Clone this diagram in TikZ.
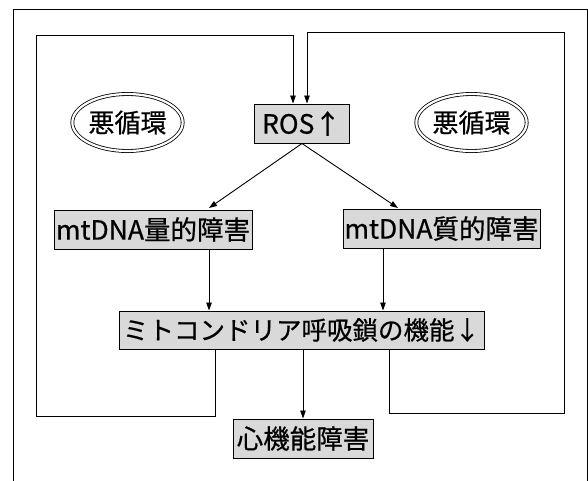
\documentclass[tikz,border=0pt]{standalone}
\usepackage{fontspec}
\setmainfont{Noto Sans CJK JP}[FakeBold=0.6]
\usetikzlibrary{shapes.geometric,arrows.meta}
\tikzset{
  box/.style={draw, line width=1pt, fill=gray!30, inner sep=1pt, font=\fontsize{26.5}{28}\selectfont},
  loopel/.style={draw, ellipse, double, double distance=2.2pt, line width=0.8pt, minimum width=105pt, minimum height=57pt, inner sep=0pt, font=\fontsize{26}{28}\selectfont},
  arr/.style={-{Triangle[length=8pt,width=5.5pt]}, line width=0.9pt},
  ln/.style={line width=1pt}
}
\begin{document}
\begin{tikzpicture}[x=1pt,y=-1pt]
\useasboundingbox (0,0) rectangle (588,480);
\draw[line width=0.9pt] (13,482) -- (13,9) -- (587,9) -- (587,482);
\node[box, minimum width=95pt, minimum height=39pt] (ros) at (301.5,123.5) {ROS↑};
\node[loopel] (e1) at (127.5,122.5) {悪循環};
\node[loopel] (e2) at (471.5,122.5) {悪循環};
\node[box, minimum width=198pt, minimum height=39pt] (q1) at (153,229.5) {mtDNA量的障害};
\node[box, minimum width=197pt, minimum height=39pt] (q2) at (441.5,228.5) {mtDNA質的障害};
\node[box, minimum width=365pt, minimum height=38pt, font=\fontsize{25.5}{27}\selectfont] (mito) at (301.5,330) {ミトコンドリア呼吸鎖の機能↓};
\node[box, minimum width=140pt, minimum height=39pt] (heart) at (303,438.5) {心機能障害};
\coordinate (lt) at (36,35);
\coordinate (rt) at (564,32);
\coordinate (lb) at (36,416);
\coordinate (rb) at (564,413);
\draw[arr] ([xshift=0.5pt]ros.south) -- (209,208);
\draw[arr] ([xshift=0.5pt]ros.south) -- (398,208);
\draw[arr] (q1.south -| 209,0) -- (mito.north -| 209,0);
\draw[arr] (q2.south -| 383,0) -- (mito.north -| 383,0);
\draw[arr] (mito.south -| heart.north) -- (heart.north);
\draw[ln] (mito.south -| 215,0) -- (lb -| 215,0) -- (lb) -- (lt) -- (lt -| 293,0) -- (293,80);
\draw[arr] (293,80) -- (ros.north -| 293,0);
\draw[ln] (mito.south -| 389,0) -- (rb -| 389,0) -- (rb) -- (rt) -- (rt -| 307,0) -- (307,80);
\draw[arr] (307,80) -- (ros.north -| 307,0);
\end{tikzpicture}
\end{document}
